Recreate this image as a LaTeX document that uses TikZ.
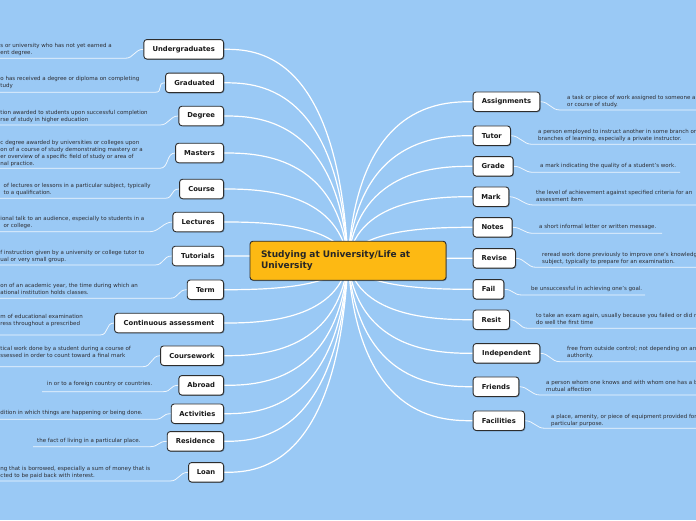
\documentclass[tikz,border=0pt]{standalone}
\usepackage{fontspec}
\setmainfont{DejaVu Sans}
\usetikzlibrary{shadows}
\definecolor{bgblue}{RGB}{154,201,245}
\definecolor{centralc}{RGB}{253,185,19}
\definecolor{edgec}{RGB}{45,45,45}
\definecolor{desctxt}{RGB}{45,45,50}
\pgfdeclarelayer{back}
\pgfsetlayers{back,main}
\newcommand\mmLbranch[2]{\draw[branch] (c.center) .. controls (338,#2) and +(30,0) .. (#1.east);}
\newcommand\mmRbranch[2]{\draw[branch] (c.center) .. controls (358,#2) and +(-30,0) .. (#1.west);}
\newcommand\mmLunder[4]{\coordinate (#1ua) at (#3,#2); \coordinate (#1ub) at (#4,#2);
  \draw[uline] (#1ua) -- (#1ub) .. controls +(9,0) and +(-9,0) .. (#1.west);}
\newcommand\mmRunder[4]{\coordinate (#1ua) at (#3,#2); \coordinate (#1ub) at (#4,#2);
  \draw[uline] (#1.east) .. controls +(9,0) and +(-9,0) .. (#1ua) -- (#1ub);}
\begin{document}
\begin{tikzpicture}[x=1pt,y=-1pt,
  topic/.style={draw=edgec, line width=0.9pt, fill=white, rounded corners=3pt,
    font=\bfseries\fontsize{6.8}{8}\selectfont, text=black!90, minimum height=19.5pt, inner sep=0pt,
    drop shadow={shadow xshift=0.8pt, shadow yshift=-0.8pt, opacity=0.3, fill=black}},
  hub/.style={draw=edgec, line width=0.9pt, fill=centralc, rounded corners=3pt,
    font=\bfseries\fontsize{9}{11}\selectfont, text=black!85, minimum height=39pt,
    text width=174pt, inner xsep=11pt, align=left,
    drop shadow={shadow xshift=0.8pt, shadow yshift=-0.8pt, opacity=0.3, fill=black}},
  desc/.style={font=\fontsize{5.5}{6.7}\selectfont, text=desctxt, align=left, inner sep=0pt, anchor=north west},
  branch/.style={draw=white, line width=1.2pt},
  uline/.style={draw=white, line width=0.8pt, draw opacity=0.85}]

\begin{pgfonlayer}{back}
\fill[bgblue] (0,0) rectangle (696,520);
\end{pgfonlayer}
\useasboundingbox (0,0) rectangle (696,520);

% central
\node[hub] (c) at (348,260.7) {Studying at University/Life at\\University};

% left topics
\node[topic, minimum width=79.7pt, anchor=east] (ug) at (224,49.3) {Undergraduates};
\node[topic, minimum width=58pt, anchor=east] (grad) at (224,82.8) {Graduated};
\node[topic, minimum width=44.7pt, anchor=east] (deg) at (224,116) {Degree};
\node[topic, minimum width=48pt, anchor=east] (mas) at (224,153) {Masters};
\node[topic, minimum width=44pt, anchor=east] (cou) at (224,189) {Course};
\node[topic, minimum width=50.7pt, anchor=east] (lec) at (224,222) {Lectures};
\node[topic, minimum width=51.3pt, anchor=east] (tut) at (224,256) {Tutorials};
\node[topic, minimum width=36.3pt, anchor=east] (term) at (224,289.7) {Term};
\node[topic, minimum width=109pt, anchor=east] (cont) at (224,323) {Continuous assessment};
\node[topic, minimum width=63pt, anchor=east] (cw) at (224,355.7) {Coursework};
\node[topic, minimum width=44.7pt, anchor=east] (abr) at (224,385.3) {Abroad};
\node[topic, minimum width=52.3pt, anchor=east] (act) at (224,413.7) {Activities};
\node[topic, minimum width=56.3pt, anchor=east] (res) at (224,441.3) {Residence};
\node[topic, minimum width=35pt, anchor=east] (loan) at (224,472.3) {Loan};

% right topics
\node[topic, minimum width=66.7pt, anchor=west] (asg) at (472.7,101.7) {Assignments};
\node[topic, minimum width=37.3pt, anchor=west] (tutor) at (472.7,135.7) {Tutor};
\node[topic, minimum width=40pt, anchor=west] (grade) at (472.7,166.3) {Grade};
\node[topic, minimum width=35.7pt, anchor=west] (mark) at (472.7,196.7) {Mark};
\node[topic, minimum width=39pt, anchor=west] (notes) at (472.7,227.3) {Notes};
\node[topic, minimum width=42.3pt, anchor=west] (rev) at (472.7,258.3) {Revise};
\node[topic, minimum width=30.7pt, anchor=west] (fail) at (472.7,289.3) {Fail};
\node[topic, minimum width=36.3pt, anchor=west] (resit) at (472.7,319.7) {Resit};
\node[topic, minimum width=66.7pt, anchor=west] (ind) at (472.7,353.3) {Independent};
\node[topic, minimum width=45.7pt, anchor=west] (fri) at (472.7,386.7) {Friends};
\node[topic, minimum width=51.3pt, anchor=west] (fac) at (472.7,420.7) {Facilities};

% left descriptions
\node[desc] (ugd) at (0.3,43.3) {s or university who has not yet earned a\\ent degree.};
\node[desc] (gradd) at (0.3,76.6) {o has received a degree or diploma on completing\\tudy};
\node[desc] (degd) at (0.3,110.6) {tion awarded to students upon successful completion\\rse of study in higher education};
\node[desc] (masd) at (0.3,140.6) {c degree awarded by universities or colleges upon\\on of a course of study demonstrating mastery or a\\er overview of a specific field of study or area of\\nal practice.};
\node[desc] (coud) at (3.5,183.3) {of lectures or lessons in a particular subject, typically\\to a qualification.};
\node[desc] (lecd) at (0.3,216.6) {ional talk to an audience, especially to students in a\\\hspace*{3pt}or college.};
\node[desc] (tutd) at (0.3,250.6) {f instruction given by a university or college tutor to\\ual or very small group.};
\node[desc] (termd) at (0.3,283.3) {on of an academic year, the time during which an\\ational institution holds classes.};
\node[desc] (contd) at (0.3,314) {m of educational examination\\ress throughout a prescribed};
\node[desc] (cwd) at (0.3,346.6) {tical work done by a student during a course of\\ssessed in order to count toward a final mark};
\node[desc] (abrd) at (47,381.6) {in or to a foreign country or countries.};
\node[desc] (actd) at (0.3,410) {dition in which things are happening or being done.};
\node[desc] (resd) at (37,438.3) {the fact of living in a particular place.};
\node[desc] (loand) at (0.3,466.3) {ng that is borrowed, especially a sum of money that is\\cted to be paid back with interest.};

% right descriptions
\node[desc] (asgd) at (567,95.6) {a task or piece of work assigned to someone a\\or course of study.};
\node[desc] (tutord) at (538,129) {a person employed to instruct another in some branch or\\branches of learning, especially a private instructor.};
\node[desc] (graded) at (540,163.3) {a mark indicating the quality of a student's work.};
\node[desc] (markd) at (536,190.6) {the level of achievement against specified criteria for an\\assessment item};
\node[desc] (notesd) at (539,224.6) {a short informal letter or written message.};
\node[desc] (revd) at (542,252.3) {reread work done previously to improve one's knowledg\\subject, typically to prepare for an examination.};
\node[desc] (faild) at (531,286.6) {be unsuccessful in achieving one's goal.};
\node[desc] (resitd) at (536,313.3) {to take an exam again, usually because you failed or did n\\do well the first time};
\node[desc] (indd) at (567,346.6) {free from outside control; not depending on an\\authority.};
\node[desc] (frid) at (546,380) {a person whom one knows and with whom one has a b\\mutual affection};
\node[desc] (facd) at (551,414) {a place, amenity, or piece of equipment provided for\\particular purpose.};

\begin{pgfonlayer}{back}
% branches
\mmLbranch{ug}{49.3}
\mmLbranch{grad}{82.8}
\mmLbranch{deg}{116}
\mmLbranch{mas}{153}
\mmLbranch{cou}{189}
\mmLbranch{lec}{222}
\mmLbranch{tut}{256}
\mmLbranch{term}{289.7}
\mmLbranch{cont}{323}
\mmLbranch{cw}{355.7}
\mmLbranch{abr}{385.3}
\mmLbranch{act}{413.7}
\mmLbranch{res}{441.3}
\mmLbranch{loan}{472.3}
\mmRbranch{asg}{101.7}
\mmRbranch{tutor}{135.7}
\mmRbranch{grade}{166.3}
\mmRbranch{mark}{196.7}
\mmRbranch{notes}{227.3}
\mmRbranch{rev}{258.3}
\mmRbranch{fail}{289.3}
\mmRbranch{resit}{319.7}
\mmRbranch{ind}{353.3}
\mmRbranch{fri}{386.7}
\mmRbranch{fac}{420.7}
% underlines
\mmLunder{ug}{58.3}{-2}{125}
\mmLunder{grad}{92.3}{-2}{155}
\mmLunder{deg}{125}{-2}{160}
\mmLunder{mas}{168.3}{-2}{160}
\mmLunder{cou}{198.3}{-2}{165}
\mmLunder{lec}{231.7}{-2}{150}
\mmLunder{tut}{265}{-2}{155}
\mmLunder{term}{298.3}{-2}{170}
\mmLunder{cont}{335}{-2}{100}
\mmLunder{cw}{366.7}{-2}{143}
\mmLunder{abr}{391.7}{42}{163}
\mmLunder{act}{419.3}{-2}{155}
\mmLunder{res}{446.7}{33}{150}
\mmLunder{loan}{481}{-2}{170}
\mmRunder{asg}{110}{560}{698}
\mmRunder{tutor}{144.3}{532}{698}
\mmRunder{grade}{172.3}{533}{680}
\mmRunder{mark}{205}{533}{698}
\mmRunder{notes}{233.3}{533}{662}
\mmRunder{rev}{267.3}{536}{698}
\mmRunder{fail}{295}{522}{645}
\mmRunder{resit}{328.3}{528}{698}
\mmRunder{ind}{361.7}{560}{698}
\mmRunder{fri}{395}{540}{698}
\mmRunder{fac}{428.3}{545}{698}
\end{pgfonlayer}
\end{tikzpicture}
\end{document}
